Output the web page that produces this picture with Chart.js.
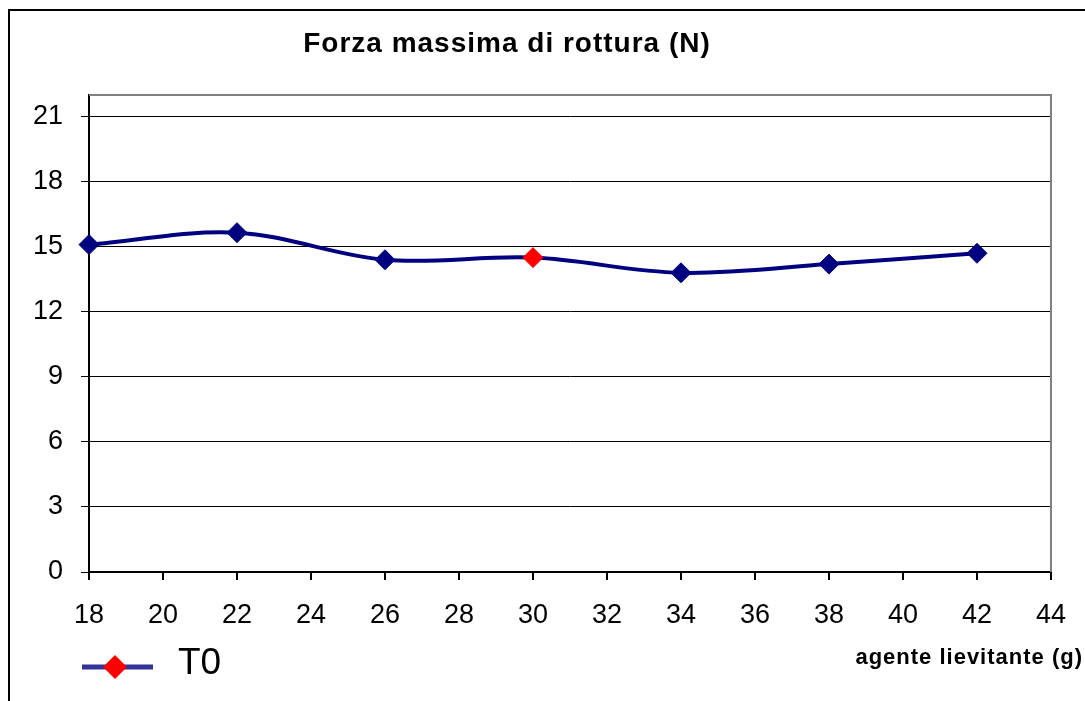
<!DOCTYPE html>
<html>
<head>
<meta charset="utf-8">
<title>Forza massima di rottura (N)</title>
<script src="https://cdn.jsdelivr.net/npm/chart.js@4/dist/chart.umd.min.js"></script>
<style>
  html, body { margin: 0; padding: 0; background: #fff; }
  #wrap { position: relative; width: 1085px; height: 701px; }
</style>
</head>
<body>
<div id="wrap"><canvas id="grafico" width="1085" height="701"></canvas></div>
<script>
// quantita' di agente lievitante (g) e forza massima di rottura (N)
const agente = [18, 22, 26, 30, 34, 38, 42];
const forza = [15.1, 15.65, 14.4, 14.5, 13.8, 14.2, 14.7];
const serie = 'T0';
const titolo = 'Forza massima di rottura (N)';
const titoloX = 'agente lievitante (g)';
const yTicks = [0, 3, 6, 9, 12, 15, 18, 21];

const NAVY = '#000080';
const ROSSO = '#ff0000';
// il punto a 30 g e' evidenziato in rosso
const coloriPunti = agente.map(a => a === 30 ? ROSSO : NAVY);
const FONT = 'Arial, "Liberation Sans", sans-serif';

// cornice, titolo, legenda e titolo dell'asse x
const decorazioni = {
  id: 'decorazioni',
  afterDraw(chart) {
    const ctx = chart.ctx;
    const a = chart.chartArea;
    ctx.save();
    // bordo esterno del grafico
    ctx.strokeStyle = '#000';
    ctx.lineWidth = 2;
    ctx.strokeRect(9, 10, 2000, 2000);
    // cornice grigia dell'area del tracciato (lati alto e destro)
    ctx.strokeStyle = '#808080';
    ctx.lineWidth = 2;
    ctx.beginPath();
    ctx.moveTo(a.left, a.top);
    ctx.lineTo(a.right, a.top);
    ctx.lineTo(a.right, a.bottom);
    ctx.stroke();

    ctx.fillStyle = '#000';
    ctx.textBaseline = 'alphabetic';
    // titolo
    ctx.font = 'bold 28px ' + FONT;
    ctx.letterSpacing = '1px';
    ctx.textAlign = 'center';
    ctx.fillText(titolo, 507, 52);
    // titolo asse x
    ctx.font = 'bold 22px ' + FONT;
    ctx.letterSpacing = '1px';
    ctx.textAlign = 'right';
    ctx.fillText(titoloX, 1083, 664);
    ctx.letterSpacing = '0px';

    // legenda
    ctx.strokeStyle = '#333399';
    ctx.lineWidth = 5;
    ctx.beginPath();
    ctx.moveTo(82, 667);
    ctx.lineTo(153, 667);
    ctx.stroke();
    ctx.fillStyle = ROSSO;
    ctx.beginPath();
    ctx.moveTo(115, 655);
    ctx.lineTo(127, 667);
    ctx.lineTo(115, 679);
    ctx.lineTo(103, 667);
    ctx.closePath();
    ctx.fill();
    ctx.fillStyle = '#000';
    ctx.font = '37px ' + FONT;
    ctx.textAlign = 'left';
    ctx.fillText(serie, 178, 674);
    ctx.restore();
  }
};

new Chart(document.getElementById('grafico'), {
  type: 'line',
  data: {
    datasets: [{
      label: serie,
      data: agente.map((a, i) => ({ x: a, y: forza[i] })),
      borderColor: NAVY,
      borderWidth: 4,
      tension: 0.35,
      fill: false,
      clip: false,
      pointStyle: 'rectRot',
      pointRadius: 10,
      pointHoverRadius: 10,
      pointBackgroundColor: coloriPunti,
      pointBorderColor: coloriPunti,
      pointBorderWidth: 1
    }]
  },
  options: {
    responsive: false,
    animation: false,
    layout: { padding: { left: 0, top: 95, right: 31, bottom: 0 } },
    plugins: {
      legend: { display: false },
      title: { display: false },
      tooltip: { enabled: false }
    },
    scales: {
      x: {
        type: 'linear',
        min: 18,
        max: 44,
        afterFit: s => { s.height = 129; },
        ticks: {
          stepSize: 2,
          color: '#000',
          padding: 19,
          font: { family: FONT, size: 27 }
        },
        grid: {
          drawOnChartArea: false,
          drawTicks: true,
          tickLength: 8,
          color: '#000',
          lineWidth: 2
        },
        border: { color: '#000', width: 2 }
      },
      y: {
        min: 0,
        max: 22,
        afterFit: s => { s.width = 89; },
        afterBuildTicks: s => { s.ticks = yTicks.map(v => ({ value: v })); },
        ticks: {
          color: '#000',
          padding: 18,
          font: { family: FONT, size: 27 }
        },
        grid: {
          color: '#000',
          lineWidth: 1,
          drawTicks: true,
          tickLength: 8
        },
        border: { color: '#000', width: 2 }
      }
    }
  },
  plugins: [decorazioni]
});
</script>
</body>
</html>
